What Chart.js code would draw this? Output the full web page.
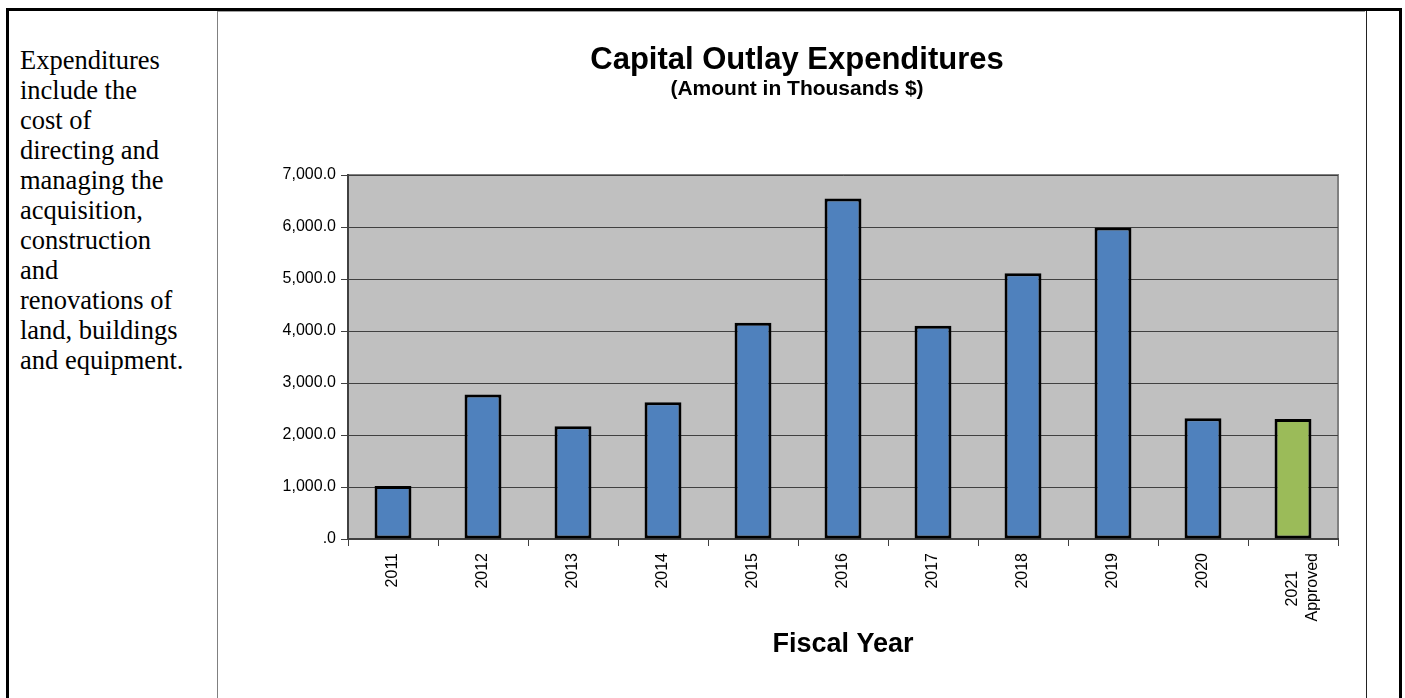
<!DOCTYPE html>
<html>
<head>
<meta charset="utf-8">
<script src="https://cdn.jsdelivr.net/npm/chart.js@4"></script>
<style>
  html, body { margin:0; padding:0; background:#fff; width:1405px; height:698px; overflow:hidden; }
  .frame { position:absolute; left:6px; top:8px; width:1390px; height:700px; border-top:3px solid #000; border-left:3px solid #000; border-right:3px solid #000; }
  .div1 { position:absolute; left:217px; top:11px; width:1px; height:690px; background:#808080; }
  .div2 { position:absolute; left:1366px; top:11px; width:1px; height:690px; background:#222; }
  .imgtop { position:absolute; left:218px; top:11px; width:1147px; height:1px; background:#a0a0a0; }
  .note { position:absolute; left:20px; top:45px; width:6.22em; font-family:'Liberation Serif','Times New Roman',serif; font-size:26.5px; line-height:30px; color:#000; }
  #wrap { position:absolute; left:218px; top:11px; width:1148px; height:687px; }
</style>
</head>
<body>
<div class="frame"></div>
<div class="div1"></div>
<div class="div2"></div>
<div class="imgtop"></div>
<div class="note">Expenditures include the cost of directing and managing the acquisition, construction and renovations of land, buildings and equipment.</div>
<div id="wrap"><canvas id="c" width="1148" height="687"></canvas></div>
<script>
const categories = ['2011','2012','2013','2014','2015','2016','2017','2018','2019','2020',['2021','Approved']];
const values = [1020, 2780, 2170, 2630, 4160, 6550, 4100, 5110, 5990, 2320, 2310];
const yTicks = [0, 1000, 2000, 3000, 4000, 5000, 6000, 7000];
const approvedIndex = categories.length - 1;

const FONT = "'Liberation Sans', Arial, sans-serif";
const mctx = document.createElement('canvas').getContext('2d');
mctx.font = "16px " + FONT;

function centerLines(lines) {
  if (!Array.isArray(lines)) return lines;
  const widths = lines.map(l => mctx.measureText(l).width);
  const maxW = Math.max(...widths);
  const sp = mctx.measureText(' ').width;
  return lines.map((l, i) => l + ' '.repeat(Math.round((maxW - widths[i]) / 2 / sp)));
}

const plotBg = {
  id: 'plotBg',
  beforeDraw(chart) {
    const {ctx, chartArea: a} = chart;
    ctx.save();
    ctx.fillStyle = '#C0C0C0';
    ctx.fillRect(a.left, a.top, a.right - a.left, a.bottom - a.top);
    ctx.strokeStyle = '#808080';
    ctx.lineWidth = 2;
    ctx.beginPath();
    ctx.moveTo(a.left, a.top);
    ctx.lineTo(a.right, a.top);
    ctx.lineTo(a.right, a.bottom);
    ctx.stroke();
    ctx.restore();
  }
};

new Chart(document.getElementById('c'), {
  type: 'bar',
  data: {
    labels: categories,
    datasets: [{
      data: values,
      backgroundColor: ctx => ctx.dataIndex === approvedIndex ? '#9BBB59' : '#4F81BD',
      borderColor: '#000',
      borderWidth: 3,
      borderSkipped: false,
      categoryPercentage: 1,
      barPercentage: 0.41
    }]
  },
  options: {
    responsive: false,
    animation: false,
    devicePixelRatio: 1,
    layout: { padding: { left: 38, right: 28, top: 0, bottom: 0 } },
    plugins: {
      legend: { display: false },
      tooltip: { enabled: false },
      title: {
        display: true,
        text: 'Capital Outlay Expenditures',
        color: '#000',
        font: { family: FONT, size: 31, weight: 'bold', lineHeight: 1 },
        padding: { top: 34, bottom: 2 }
      },
      subtitle: {
        display: true,
        text: '(Amount in Thousands $)',
        color: '#000',
        font: { family: FONT, size: 21, weight: 'bold', lineHeight: 1 },
        padding: { top: 1, bottom: 75 }
      }
    },
    scales: {
      x: {
        grid: { display: true, drawOnChartArea: false, drawTicks: true, tickLength: 7, color: '#404040', lineWidth: 1, offset: true },
        border: { display: true, color: '#404040', width: 2 },
        ticks: {
          color: '#000', font: { family: FONT, size: 16 }, minRotation: 90, maxRotation: 90, padding: 7,
          autoSkip: false,
          callback: function(v, i) { return centerLines(categories[i]); }
        },
        title: {
          display: true, text: 'Fiscal Year', color: '#000',
          font: { family: FONT, size: 27, weight: 'bold' },
          padding: { top: 0, bottom: 37 }
        },
        afterFit: s => { s.height = 159; }
      },
      y: {
        min: 0, max: 7000,
        afterBuildTicks: s => { s.ticks = yTicks.map(v => ({ value: v })); },
        grid: { color: '#404040', lineWidth: 1, drawTicks: true, tickLength: 7 },
        border: { display: true, color: '#404040', width: 2 },
        ticks: {
          color: '#000', font: { family: FONT, size: 16 }, padding: 5,
          callback: v => v === 0 ? '.0' : v.toLocaleString('en-US', { minimumFractionDigits: 1, maximumFractionDigits: 1 })
        },
        afterFit: s => { s.width = 92; }
      }
    }
  },
  plugins: [plotBg]
});
</script>
</body>
</html>
